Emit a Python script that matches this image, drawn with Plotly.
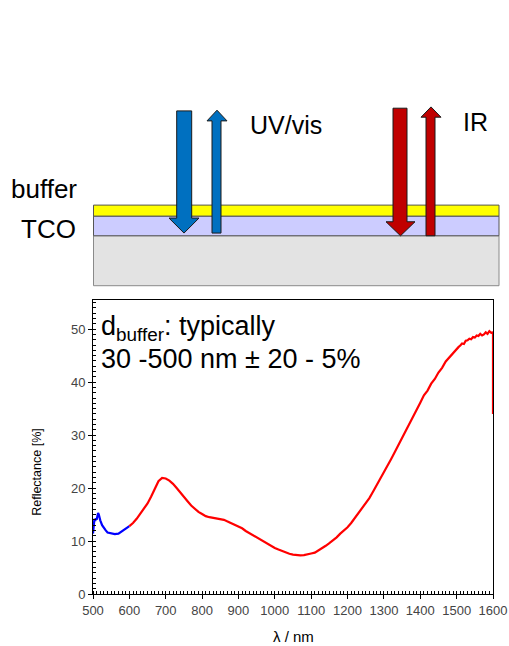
import plotly.graph_objects as go

# ---------------- data ----------------
uv_wavelength = [500, 502, 504, 506, 508, 510, 512, 514, 516, 518, 520, 525, 530, 535, 540,
                 550, 560, 570, 580, 590, 600]
uv_reflectance = [11.4, 13.2, 14.2, 13.8, 14.3, 14.0, 14.8, 15.3, 15.0, 14.4, 13.9, 13.0, 12.4, 12.0, 11.6,
                  11.4, 11.3, 11.4, 11.9, 12.3, 12.8]

ir_wavelength = [600, 610, 620, 630, 640, 650, 660, 670, 680, 690, 700, 710, 720, 730, 740, 750,
                 760, 770, 780, 790, 800, 810, 820, 830, 840, 850, 860, 870, 880, 890, 900,
                 910, 920, 930, 940, 950, 960, 970, 980, 990, 1000, 1010, 1020, 1030, 1040, 1050,
                 1060, 1070, 1080, 1090, 1100, 1110, 1120, 1130, 1140, 1150, 1160, 1170, 1180, 1190,
                 1200, 1210, 1220, 1230, 1240, 1250, 1260, 1270, 1280, 1290, 1300, 1310, 1320, 1330,
                 1340, 1350, 1360, 1370, 1380, 1390, 1400, 1410, 1420, 1430, 1440, 1450, 1460, 1470,
                 1480, 1490, 1500, 1505, 1510, 1515, 1520, 1525, 1530, 1535, 1540, 1545, 1550, 1555,
                 1560, 1565, 1570, 1575, 1580, 1585, 1590, 1595, 1600, 1600]
ir_reflectance = [12.8, 13.4, 14.2, 15.1, 16.1, 17.1, 18.4, 19.9, 21.3, 21.9, 21.8, 21.4, 20.8, 20.0, 19.1, 18.3,
                  17.5, 16.7, 16.0, 15.5, 15.1, 14.7, 14.5, 14.4, 14.3, 14.1, 14.0, 13.7, 13.4, 13.1, 12.8,
                  12.4, 11.9, 11.5, 11.0, 10.6, 10.2, 9.8, 9.4, 9.0, 8.7, 8.4, 8.1, 7.8, 7.6, 7.45,
                  7.35, 7.3, 7.35, 7.45, 7.65, 7.8, 8.2, 8.6, 9.1, 9.6, 10.1, 10.7, 11.4, 12.0,
                  12.6, 13.4, 14.3, 15.2, 16.2, 17.1, 18.1, 19.3, 20.5, 21.7, 23.0, 24.3, 25.5, 26.8,
                  28.1, 29.3, 30.6, 31.9, 33.3, 34.7, 36.1, 37.5, 38.4, 39.7, 40.6, 41.8, 42.7, 43.9,
                  44.7, 45.6, 46.2, 46.6, 46.9, 47.3, 47.2, 47.8, 47.9, 48.2, 48.1, 48.5, 48.4, 48.8,
                  48.7, 49.1, 48.8, 49.0, 49.4, 49.1, 49.6, 49.3, 49.4, 34.0]

x_ticks = [500, 600, 700, 800, 900, 1000, 1100, 1200, 1300, 1400, 1500, 1600]
y_ticks = [0, 10, 20, 30, 40, 50]

FONT = "Arial, Liberation Sans, sans-serif"

# plot-area pixel geometry (for converting the schematic into paper coordinates)
L, R, T, B = 93.0, 493.0, 300.0, 594.3
def px(x):
    return (x - L) / (R - L)
def py(y):
    return (B - y) / (B - T)

fig = go.Figure()
fig.add_trace(go.Scatter(x=uv_wavelength, y=uv_reflectance, mode="lines",
                         line=dict(color="#0000FF", width=2.2), showlegend=False))
fig.add_trace(go.Scatter(x=ir_wavelength, y=ir_reflectance, mode="lines",
                         line=dict(color="#FF0000", width=2.2), showlegend=False))

shapes = []
def rect(x0, y0, x1, y1, fill, line):
    shapes.append(dict(type="rect", xref="paper", yref="paper",
                       x0=px(x0), x1=px(x1), y0=py(y1), y1=py(y0),
                       fillcolor=fill, line=dict(color=line, width=1), layer="above"))

rect(93.5, 235.7, 499, 285.7, "#E3E3E3", "#8A8A8A")
rect(93.5, 216, 499, 235.7, "#CCCCFF", "#555555")
rect(93.5, 205, 499, 216, "#FFFF00", "#555555")

def arrow(bx0, bx1, base, hbase, hx0, hx1, tip, color):
    cx = (hx0 + hx1) / 2
    pts = [(bx0, base), (bx1, base), (bx1, hbase), (hx1, hbase), (cx, tip), (hx0, hbase), (bx0, hbase)]
    path = "M " + " L ".join(f"{px(a):.5f},{py(b):.5f}" for a, b in pts) + " Z"
    shapes.append(dict(type="path", xref="paper", yref="paper", path=path,
                       fillcolor=color, line=dict(color="#1A1A1A", width=1), layer="above"))

arrow(176.7, 191.7, 110.7, 218, 169, 199, 233, "#0070C0")     # UV/vis incoming
arrow(212, 221, 233, 120.7, 207, 227, 110, "#0070C0")         # UV/vis reflected
arrow(393, 407, 108, 221.7, 386, 415, 235.7, "#C00000")       # IR incoming
arrow(426, 435, 235.7, 117, 421, 441, 106.7, "#C00000")       # IR reflected

annotations = []
def label(text, x, y, size, xanchor="left", angle=0, color="black"):
    annotations.append(dict(text=text, xref="paper", yref="paper", x=px(x), y=py(y),
                            xanchor=xanchor, yanchor="middle", showarrow=False,
                            textangle=angle, font=dict(family=FONT, size=size, color=color)))

label("UV/vis", 248, 125, 25)
label("IR", 461, 122, 25)
label("buffer", 9, 189, 26)
label("TCO", 19, 229, 26)
label("d<sub>buffer</sub>: typically", 99, 328.5, 27)
label("30 -500 nm ± 20 - 5%", 99, 359.5, 27)
label("Reflectance [%]", 37, 472, 12.5, xanchor="center", angle=-90)
label("λ / nm", 293, 637, 15, xanchor="center")

fig.update_layout(
    width=509, height=646, autosize=False,
    margin=dict(l=93, r=16, t=300, b=52),
    paper_bgcolor="white", plot_bgcolor="white",
    shapes=shapes, annotations=annotations,
    font=dict(family=FONT),
    xaxis=dict(range=[500, 1600], tickvals=x_ticks, ticks="outside", ticklen=4,
               tickcolor="black", showline=True, linecolor="black", linewidth=1, mirror=True,
               showgrid=False, zeroline=False, automargin=False,
               tickfont=dict(family=FONT, size=13, color="#444444"),
               minor=dict(dtick=10, ticks="inside", ticklen=3, tickcolor="black", showgrid=False)),
    yaxis=dict(range=[0, 55.5], tickvals=y_ticks, ticks="outside", ticklen=4,
               tickcolor="black", showline=True, linecolor="black", linewidth=1, mirror=True,
               showgrid=False, zeroline=False, automargin=False,
               tickfont=dict(family=FONT, size=13, color="#444444"),
               minor=dict(dtick=1, ticks="inside", ticklen=3, tickcolor="black", showgrid=False)),
)

fig.write_html("out.html", config={"responsive": False, "displayModeBar": False},
               post_script="document.body.style.margin='0';document.body.style.overflow='hidden';")
